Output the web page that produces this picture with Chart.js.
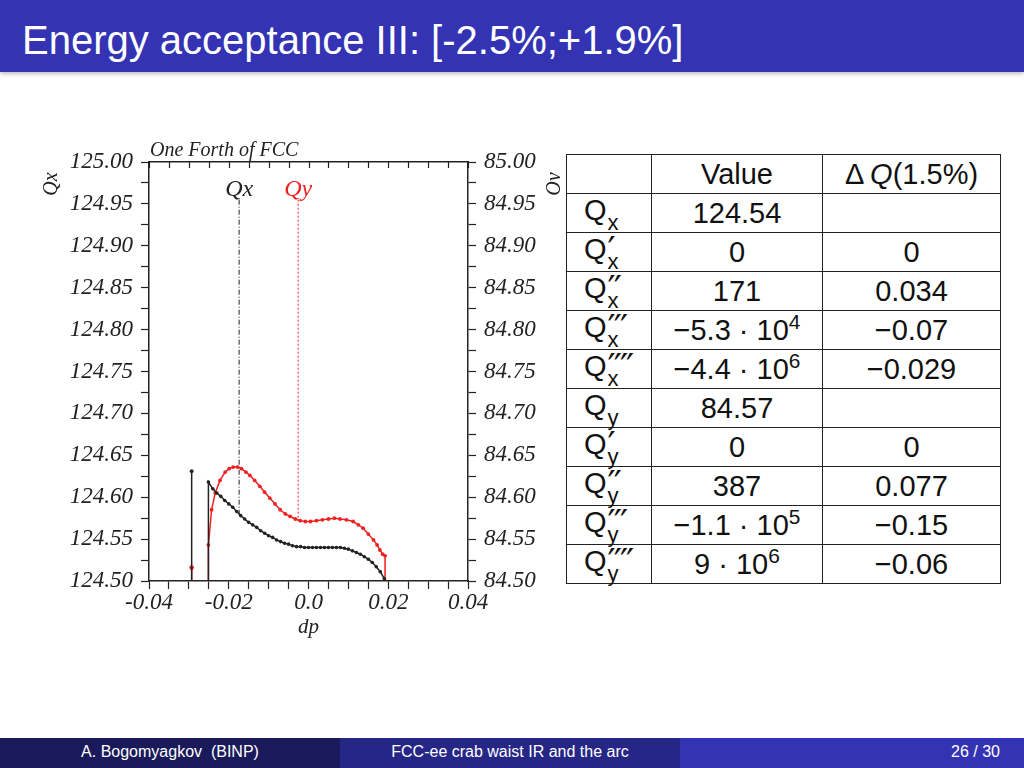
<!DOCTYPE html>
<html>
<head>
<meta charset="utf-8">
<script src="https://cdn.jsdelivr.net/npm/chart.js@4.4.1/dist/chart.umd.min.js"></script>
<style>
  body { margin: 0; width: 1024px; height: 768px; background: #fff; position: relative; overflow: hidden; font-family: "Liberation Sans", Arial, sans-serif; }
  #bar { position: absolute; left: 0; top: 0; width: 1024px; height: 72px; background: #3333b3; box-shadow: 0 2px 4px rgba(0,0,0,0.25); }
  #bar span { position: absolute; left: 22px; top: 18px; color: #fff; font-size: 40px; white-space: nowrap; }
  #plot { position: absolute; left: 0; top: 130px; }
  #tbl { position: absolute; left: 566px; top: 154px; border-collapse: collapse; font-size: 29px; color: #111; }
  #tbl td { border: 1.5px solid #222; height: 38px; padding: 0; text-align: center; line-height: 30px; }
  #tbl td.n { text-align: left; padding-left: 17px; }
  .scr { display: inline-block; vertical-align: -10px; font-size: 22px; line-height: 17px; text-align: left; margin-left: 1px; }
  .scr span { display: block; height: 17px; }
  .scr .pr { font-family: "DejaVu Sans", sans-serif; font-size: 36px; letter-spacing: -2px; position: relative; top: 5px; }
  .it { font-style: italic; }
  #foot { position: absolute; left: 0; top: 738px; width: 1024px; height: 30px; color: #fff; font-size: 16px; }
  #foot div { position: absolute; top: 0; height: 30px; line-height: 27px; }
</style>
</head>
<body>
<div id="bar"><span>Energy acceptance III: [-2.5%;+1.9%]</span></div>
<canvas id="plot" width="560" height="520"></canvas>
<table id="tbl"></table>
<div id="foot">
  <div style="left:0;width:340px;background:#1a1a5a;text-align:center">A. Bogomyagkov&nbsp;&nbsp;(BINP)</div>
  <div style="left:340px;width:340px;background:#262686;text-align:center">FCC-ee crab waist IR and the arc</div>
  <div style="left:680px;width:344px;background:#3333b3;text-align:right;"><span style="padding-right:24px">26 / 30</span></div>
</div>
<script>
// tune Qx vs dp (black)
const qxDp = [-0.0251, -0.0251, -0.0240, -0.0230, -0.0220, -0.0210, -0.0200, -0.0190, -0.0180, -0.0170,
  -0.0160, -0.0150, -0.0140, -0.0130, -0.0120, -0.0110, -0.0100, -0.0090, -0.0080, -0.0070,
  -0.0060, -0.0050, -0.0040, -0.0030, -0.0020, -0.0010, 0.0000, 0.0010, 0.0020, 0.0030,
  0.0040, 0.0050, 0.0060, 0.0070, 0.0080, 0.0090, 0.0100, 0.0110, 0.0120, 0.0130,
  0.0140, 0.0150, 0.0160, 0.0170, 0.0180, 0.0190, 0.0192];
const qxVal = [124.500, 124.618, 124.610, 124.605, 124.601, 124.596, 124.592, 124.588, 124.583, 124.578,
  124.574, 124.570, 124.567, 124.564, 124.560, 124.557, 124.554, 124.552, 124.549, 124.547,
  124.545, 124.544, 124.542, 124.541, 124.541, 124.540, 124.540, 124.540, 124.540, 124.540,
  124.540, 124.540, 124.540, 124.540, 124.540, 124.539, 124.538, 124.536, 124.534, 124.532,
  124.529, 124.526, 124.522, 124.517, 124.511, 124.503, 124.500];
// tune Qy vs dp (red)
const qyDp = [-0.0251, -0.0251, -0.0243, -0.0234, -0.0222, -0.0209, -0.0199, -0.0189, -0.0178, -0.0168,
  -0.0157, -0.0147, -0.0135, -0.0122, -0.0110, -0.0097, -0.0084, -0.0071, -0.0058, -0.0046,
  -0.0033, -0.0021, -0.0008, 0.0005, 0.0020, 0.0035, 0.0050, 0.0065, 0.0079, 0.0095,
  0.0112, 0.0125, 0.0137, 0.0150, 0.0163, 0.0172, 0.0179, 0.0186, 0.0192, 0.0192];
const qyVal = [84.500, 84.543, 84.585, 84.605, 84.620, 84.630, 84.634, 84.636, 84.636, 84.634,
  84.630, 84.626, 84.620, 84.613, 84.606, 84.599, 84.592, 84.585, 84.580, 84.577,
  84.574, 84.572, 84.571, 84.571, 84.572, 84.573, 84.574, 84.575, 84.574, 84.573,
  84.571, 84.567, 84.563, 84.556, 84.549, 84.543, 84.537, 84.532, 84.530, 84.500];
// isolated lost point at dp = -0.0293
const lostDp = -0.0293;
const lostQx = [124.500, 124.631];
const lostQy = [84.500, 84.516];
// working point markers
const qxMarkDp = -0.0174, qxMarkY = [124.955, 124.578];
const qyMarkDp = -0.0026, qyMarkY = [84.955, 84.572];

// table
const planes = ['x', 'y'];
const primes = ['', '′', '′′', '′′′', '′′′′'];
const tuneValues = {
  x: ['124.54', '0', '171', '−5.3 · 10^4', '−4.4 · 10^6'],
  y: ['84.57', '0', '387', '−1.1 · 10^5', '9 · 10^6']
};
const tuneDeltas = {
  x: ['', '0', '0.034', '−0.07', '−0.029'],
  y: ['', '0', '0.077', '−0.15', '−0.06']
};

function fmtVal(s) {
  return s.replace(/\^(\d+)/, '<sup style="font-size:0.72em;vertical-align:0.55em;line-height:0">$1</sup>');
}
let html = '<tr><td style="width:84px"></td><td style="width:170px">Value</td><td style="width:177px">Δ&thinsp;<span class="it">Q</span>(1.5%)</td></tr>';
planes.forEach(p => {
  primes.forEach((pr, i) => {
    html += '<tr><td class="n">Q<span class="scr"><span class="pr">' + (pr || '&#8203;') + '</span><span>' + p + '</span></span></td>' +
      '<td>' + fmtVal(tuneValues[p][i]) + '</td><td>' + tuneDeltas[p][i] + '</td></tr>';
  });
});
document.getElementById('tbl').innerHTML = html;

const serif = '"Liberation Serif", "Times New Roman", serif';
const ink = '#222';
const red = '#ee2222';

function pts(xs, ys) { return xs.map((x, i) => ({ x: x, y: ys[i] })); }

const notes = {
  id: 'notes',
  afterDraw(chart) {
    const c = chart.ctx, a = chart.chartArea;
    const x = chart.scales.x, y = chart.scales.y, y2 = chart.scales.y2;
    c.save();
    // inward ticks on the top frame
    c.strokeStyle = ink;
    c.lineWidth = 1.2;
    x.ticks.forEach(t => {
      const px = Math.round(x.getPixelForValue(t.value)) + 0.5;
      c.beginPath();
      c.moveTo(px, a.top);
      c.lineTo(px, a.top + 6);
      c.stroke();
    });
    c.font = 'italic 20px ' + serif;
    c.fillStyle = ink;
    c.textAlign = 'left';
    c.textBaseline = 'alphabetic';
    c.fillText('One Forth of FCC', a.left + 1, a.top - 6);
    c.font = 'italic 24px ' + serif;
    c.textAlign = 'center';
    c.fillText('Qx', x.getPixelForValue(qxMarkDp), y.getPixelForValue(qxMarkY[0]) - 4);
    c.fillStyle = red;
    c.fillText('Qy', x.getPixelForValue(qyMarkDp), y2.getPixelForValue(qyMarkY[0]) - 4);
    c.fillStyle = ink;
    c.font = 'italic 21px ' + serif;
    c.fillText('dp', (a.left + a.right) / 2, a.bottom + 52);
    c.font = 'italic 20px ' + serif;
    c.translate(57, a.top + 22);
    c.rotate(-Math.PI / 2);
    c.fillText('Qx', 0, 0);
    c.restore();
    c.save();
    c.font = 'italic 20px ' + serif;
    c.fillStyle = ink;
    c.textAlign = 'center';
    c.translate(a.right + 92, a.top + 22);
    c.rotate(-Math.PI / 2);
    c.fillText('Qy', 0, 0);
    c.restore();
  }
};

function isMult(v, step) { return Math.abs(Math.round(v / step) * step - v) < 1e-7; }

const gridOpts = { drawOnChartArea: false, drawTicks: true, tickLength: 8, tickColor: ink, tickWidth: 1.2 };
const borderOpts = { display: true, color: ink, width: 1.5 };
const tickFont = { family: serif, size: 23, style: 'italic' };

new Chart(document.getElementById('plot'), {
  type: 'scatter',
  data: {
    datasets: [
      { data: pts(qxDp, qxVal), yAxisID: 'y', showLine: true, borderColor: ink, backgroundColor: ink, borderWidth: 1.5,
        pointRadius: ctx => ctx.dataIndex === 0 ? 0 : 1.8, pointBorderWidth: 0 },
      { data: pts(qyDp, qyVal), yAxisID: 'y2', showLine: true, borderColor: red, backgroundColor: red, borderWidth: 1.5,
        pointRadius: ctx => (ctx.dataIndex === 0 || ctx.dataIndex === qyDp.length - 1) ? 0 : 1.9, pointBorderWidth: 0 },
      { data: pts([lostDp, lostDp], lostQx), yAxisID: 'y', showLine: true, borderColor: ink, backgroundColor: ink, borderWidth: 1.5,
        pointRadius: [0, 1.9], pointBorderWidth: 0 },
      { data: pts([lostDp, lostDp], lostQy), yAxisID: 'y2', showLine: true, borderColor: red, backgroundColor: red, borderWidth: 1.5,
        pointRadius: [0, 2.3], pointBorderWidth: 0 },
      { data: pts([qxMarkDp, qxMarkDp], qxMarkY), yAxisID: 'y', showLine: true, borderColor: ink, borderWidth: 1,
        borderDash: [5, 2, 1, 2], pointRadius: 0 },
      { data: pts([qyMarkDp, qyMarkDp], qyMarkY), yAxisID: 'y2', showLine: true, borderColor: red, borderWidth: 1,
        borderDash: [2, 2], pointRadius: 0 }
    ]
  },
  options: {
    responsive: false,
    animation: false,
    layout: { padding: 0 },
    plugins: { legend: { display: false }, tooltip: { enabled: false } },
    scales: {
      x: {
        type: 'linear', position: 'bottom', min: -0.04, max: 0.04,
        grid: gridOpts, border: borderOpts,
        ticks: { stepSize: 0.005, autoSkip: false, maxRotation: 0, color: ink, font: tickFont, padding: 0,
          callback: v => isMult(v, 0.02) ? (Math.abs(v) < 1e-9 ? '0.0' : v.toFixed(2)) : '' },
        afterFit: s => { s.height = 69; }
      },
      x2: {
        type: 'linear', position: 'top', min: -0.04, max: 0.04,
        grid: Object.assign({}, gridOpts, { drawTicks: false }), border: borderOpts,
        ticks: { display: false },
        afterFit: s => { s.height = 32; }
      },
      y: {
        type: 'linear', position: 'left', min: 124.5, max: 125.0,
        grid: gridOpts, border: borderOpts,
        ticks: { stepSize: 0.025, autoSkip: false, color: ink, font: tickFont, padding: 8,
          callback: v => isMult(v, 0.05) ? v.toFixed(2) : '' },
        afterFit: s => { s.width = 149; }
      },
      y2: {
        type: 'linear', position: 'right', min: 84.5, max: 85.0,
        grid: gridOpts, border: borderOpts,
        ticks: { stepSize: 0.025, autoSkip: false, color: ink, font: tickFont, padding: 8,
          callback: v => isMult(v, 0.05) ? v.toFixed(2) : '' },
        afterFit: s => { s.width = 92; }
      }
    }
  },
  plugins: [notes]
});
</script>
</body>
</html>
